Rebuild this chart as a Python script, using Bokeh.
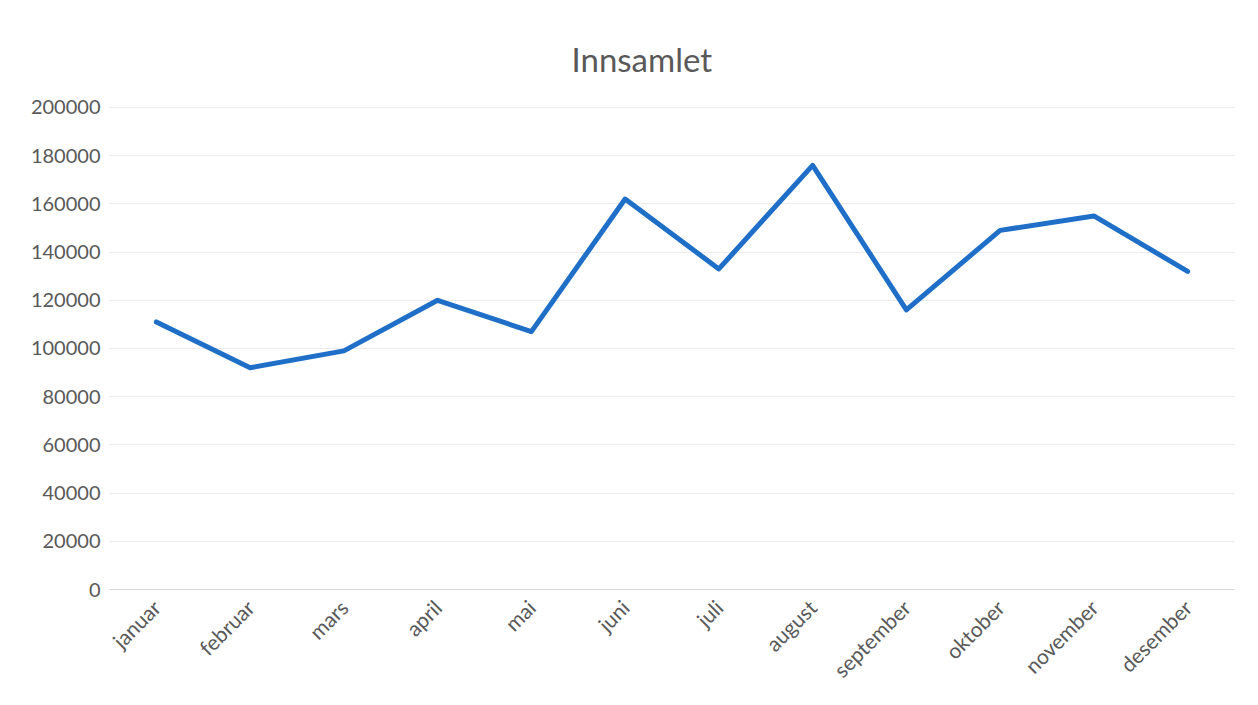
import math
from bokeh.plotting import figure
from bokeh.models import Range1d, FixedTicker, NumeralTickFormatter
from bokeh.embed import file_html
from bokeh.resources import INLINE

months = ["januar", "februar", "mars", "april", "mai", "juni", "juli",
          "august", "september", "oktober", "november", "desember"]
innsamlet = [111000, 92000, 99000, 120000, 107000, 162000, 133000,
             176000, 116000, 149000, 155000, 132000]
y_ticks = [0, 20000, 40000, 60000, 80000, 100000, 120000, 140000,
           160000, 180000, 200000]

FONT = "Lato"
TXT = "#595959"

p = figure(x_range=months, y_range=Range1d(0, 200400),
           width=1242, height=693, output_backend="svg",
           toolbar_location=None, title="Innsamlet",
           min_border_left=109, min_border_right=8, min_border_top=106,
           min_border_bottom=10)

p.line(months, innsamlet, line_color="#1F6FC8", line_width=5,
       line_join="round", line_cap="round")

p.title.text_font = FONT
p.title.text_font_size = "33px"
p.title.text_font_style = "normal"
p.title.text_color = TXT
p.title.align = "left"
p.title.offset = 462
p.title.standoff = 56

p.outline_line_color = None
p.background_fill_color = "white"
p.border_fill_color = "white"

p.xgrid.grid_line_color = None
p.ygrid.grid_line_color = "#ececec"
p.ygrid.grid_line_width = 1

p.yaxis.ticker = FixedTicker(ticks=y_ticks)
p.yaxis.formatter = NumeralTickFormatter(format="0")
p.yaxis.axis_line_color = None
p.yaxis.major_tick_line_color = None
p.yaxis.minor_tick_line_color = None
p.yaxis.major_label_text_font = FONT
p.yaxis.major_label_text_font_size = "20px"
p.yaxis.major_label_text_color = TXT
p.yaxis.major_label_standoff = 3

p.xaxis.axis_line_color = "#d9d9d9"
p.xaxis.major_tick_line_color = None
p.xaxis.minor_tick_line_color = None
p.xaxis.major_label_orientation = math.pi / 4
p.xaxis.major_label_text_font = FONT
p.xaxis.major_label_text_font_size = "21px"
p.xaxis.major_label_text_color = TXT
p.xaxis.major_label_standoff = 8

p.x_range.range_padding = 0

open("out.html", "w").write(file_html(p, INLINE))
